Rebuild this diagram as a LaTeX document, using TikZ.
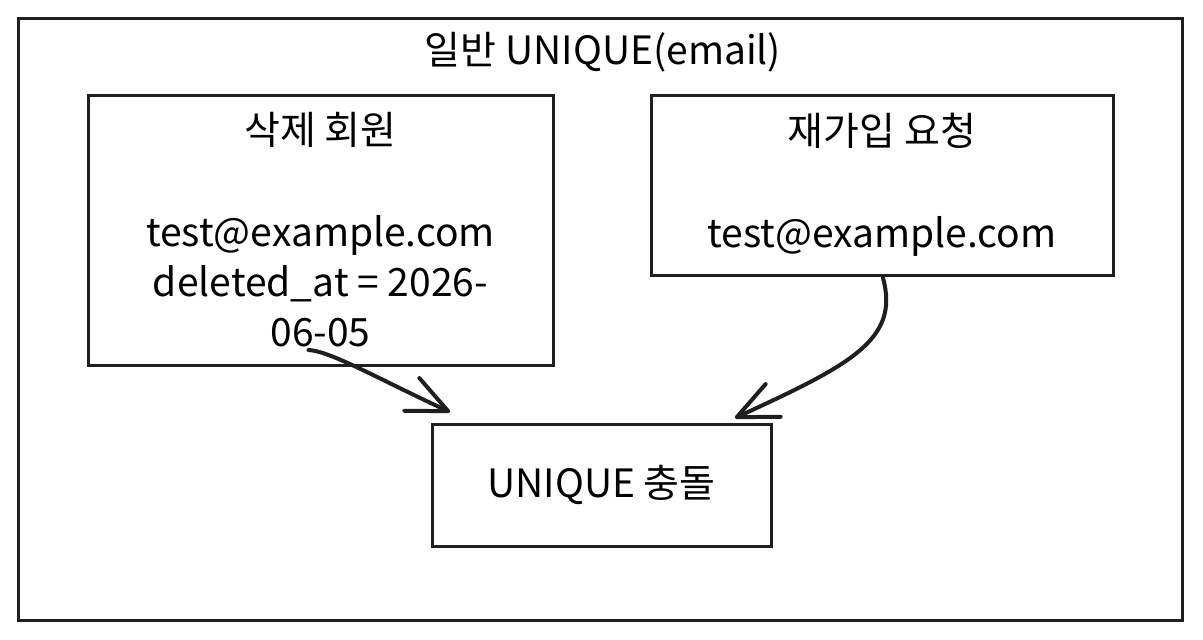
\documentclass[tikz,border=0pt]{standalone}
\usepackage{fontspec}
\setmainfont{Noto Sans CJK KR}
\usetikzlibrary{arrows.meta,calc}
\begin{document}
\begin{tikzpicture}[x=1pt,y=-1pt,
  boxtxt/.style={align=center,font=\fontsize{39}{50}\selectfont,inner sep=0pt,outer sep=0pt},
  arr/.style={draw=black!88,line width=4pt,line cap=round,
    -{Straight Barb[length=40pt,width=36pt,line width=4pt,round]}}]
\useasboundingbox (0,0) rectangle (1203,640);
\node[draw=black!88,line width=3pt,minimum width=1164pt,minimum height=602pt,inner sep=0pt] (outer) at (600,319) {};
\node[boxtxt] (title) at (603,52) {일반 UNIQUE(email)};
\node[draw=black!88,line width=3pt,minimum width=465pt,minimum height=270pt,inner sep=0pt,boxtxt] (del) at (320.5,230)
  {삭제 회원\\[52pt]test@example.com\\deleted\_at = 2026-\\06-05};
\node[draw=black!88,line width=3pt,minimum width=462pt,minimum height=180pt,inner sep=0pt,boxtxt] (req) at (882,185)
  {재가입 요청\\[52pt]test@example.com};
\node[draw=black!88,line width=3pt,minimum width=339pt,minimum height=122pt,inner sep=0pt,boxtxt] (col) at (601.5,485)
  {UNIQUE 충돌};
\draw[arr] ($(del.south)+(-12,-15)$) .. controls ($(del.south)+(10,-14)$) and ($(del.south)+(60,15)$) .. ($(col.north west)+(18,-12)$);
\draw[arr] ($(req.south)+(1,3)$) .. controls ($(req.south)+(18,65)$) and ($(req.south)+(-32,90)$) .. ($(col.north east)+(-36,-6)$);
\end{tikzpicture}
\end{document}
